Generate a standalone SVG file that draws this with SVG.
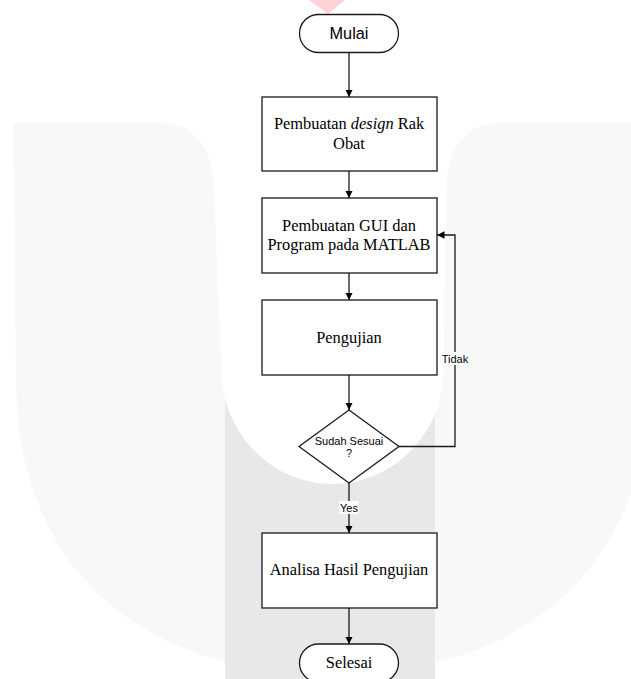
<svg xmlns="http://www.w3.org/2000/svg" width="631" height="679" viewBox="0 0 631 679">
<style>
.bg{fill:#ffffff}
.wm{fill:#f8f8f8}
.stripe{fill:#e8e8ea}
.node{fill:#ffffff;stroke:#1a1a1a;stroke-width:1.3}
.edge{fill:none;stroke:#1a1a1a;stroke-width:1.3}
.serif{font-family:"Liberation Serif","Times New Roman",serif;font-size:16.4px;fill:#000;text-anchor:middle}
.sans{font-family:"Liberation Sans",Arial,sans-serif;fill:#000;text-anchor:middle}
.lbl{fill:#ffffff}
</style>
<defs>
<marker id="arr" markerUnits="userSpaceOnUse" markerWidth="8" markerHeight="8" refX="7.5" refY="3.75" orient="auto">
<path d="M0,0 L7.5,3.75 L0,7.5 Z" fill="#000"/>
</marker>
</defs>
<rect class="bg" x="0" y="0" width="631" height="679"/>
<g id="watermark">
<path class="wm" d="M13,123 L157,123 C198,123 212,148 214,190 L221.5,370 A111 114 0 0 0 443.5,370 L446,190 C448,148 462,123 505,123 L652,123 L649,380 C649,550 542,674 332,674 C122,674 16,550 16,380 Z"/>
<rect class="stripe" x="225" y="360" width="210" height="319"/>
<path class="bg" d="M221.5,340 L221.5,370 A111 114 0 0 0 443.5,370 L443.5,340 Z"/>
<polygon points="309,0 345,0 328,14" fill="#fdd3d6"/>
</g>
<g id="connectors">
<line class="edge" x1="349" y1="52.5" x2="349" y2="97" marker-end="url(#arr)"/>
<line class="edge" x1="349" y1="171" x2="349" y2="198" marker-end="url(#arr)"/>
<line class="edge" x1="349" y1="273" x2="349" y2="300" marker-end="url(#arr)"/>
<line class="edge" x1="349" y1="375" x2="349" y2="410" marker-end="url(#arr)"/>
<line class="edge" x1="349" y1="483" x2="349" y2="533" marker-end="url(#arr)"/>
<line class="edge" x1="349" y1="608" x2="349" y2="644" marker-end="url(#arr)"/>
<polyline class="edge" points="399,446.5 455,446.5 455,235 437,235" marker-end="url(#arr)"/>
<rect class="lbl" x="441.5" y="352" width="27" height="13"/>
<text class="sans" x="455" y="363" font-size="11">Tidak</text>
<rect class="lbl" x="339.5" y="501" width="19" height="13"/>
<text class="sans" x="349" y="512" font-size="11">Yes</text>
</g>
<g id="mulai">
<rect class="node" x="299.5" y="14.5" width="99" height="38" rx="19" ry="19"/>
<text class="sans" x="349" y="39" font-size="16.3">Mulai</text>
</g>
<g id="design">
<rect class="node" x="262" y="97" width="175" height="74"/>
<text class="serif" x="349" y="129.3">Pembuatan <tspan font-style="italic">design</tspan> Rak</text>
<text class="serif" x="349" y="149.3">Obat</text>
</g>
<g id="gui">
<rect class="node" x="262" y="198" width="175" height="75"/>
<text class="serif" x="349" y="230.7">Pembuatan GUI dan</text>
<text class="serif" x="349" y="249.7">Program pada MATLAB</text>
</g>
<g id="pengujian">
<rect class="node" x="262" y="300" width="175" height="75"/>
<text class="serif" x="349" y="343.3">Pengujian</text>
</g>
<g id="sesuai">
<polygon class="node" points="349,410 399,446.5 349,483 299,446.5"/>
<text class="sans" x="349" y="445" font-size="11">Sudah Sesuai</text>
<text class="sans" x="349" y="457" font-size="11">?</text>
</g>
<g id="analisa">
<rect class="node" x="262" y="533" width="175" height="75"/>
<text class="serif" x="349" y="575">Analisa Hasil Pengujian</text>
</g>
<g id="selesai">
<rect class="node" x="299.5" y="644" width="99" height="38" rx="19" ry="19"/>
<text class="serif" x="349" y="668.3">Selesai</text>
</g>
</svg>
